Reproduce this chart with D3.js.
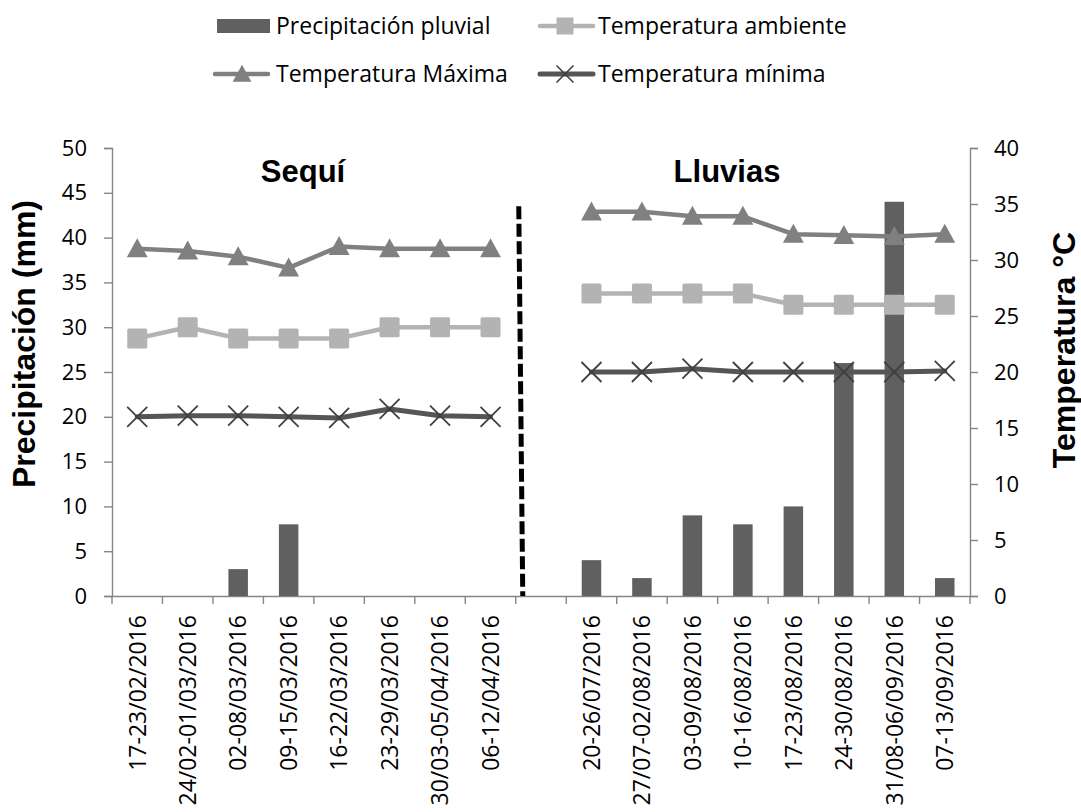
<!DOCTYPE html>
<html>
<head>
<meta charset="utf-8">
<script src="https://cdn.jsdelivr.net/npm/d3@7"></script>
<style>
  html, body { margin: 0; padding: 0; background: #fff; }
  svg { display: block; }
  .tick text { font-family: "Open Sans", sans-serif; fill: #000; }
</style>
</head>
<body>
<svg id="chart" width="1081" height="812"></svg>
<script>
// ---- data ----
const categories = [
  "17-23/02/2016", "24/02-01/03/2016", "02-08/03/2016", "09-15/03/2016",
  "16-22/03/2016", "23-29/03/2016", "30/03-05/04/2016", "06-12/04/2016",
  " ",
  "20-26/07/2016", "27/07-02/08/2016", "03-09/08/2016", "10-16/08/2016",
  "17-23/08/2016", "24-30/08/2016", "31/08-06/09/2016", "07-13/09/2016"
];
const precipitacion = [0, 0, 3, 8, 0, 0, 0, 0, null, 4, 2, 9, 8, 10, 26, 44, 2];
const tempMaxima   = [31.0, 30.8, 30.3, 29.3, 31.2, 31.0, 31.0, 31.0, null, 34.3, 34.3, 33.9, 33.9, 32.3, 32.2, 32.1, 32.3];
const tempAmbiente = [23, 24, 23, 23, 23, 24, 24, 24, null, 27, 27, 27, 27, 26, 26, 26, 26];
const tempMinima   = [16.0, 16.1, 16.1, 16.0, 15.9, 16.7, 16.1, 16.0, null, 20.0, 20.0, 20.3, 20.0, 20.0, 20.0, 20.0, 20.1];
const leftTicks  = [0, 5, 10, 15, 20, 25, 30, 35, 40, 45, 50];
const rightTicks = [0, 5, 10, 15, 20, 25, 30, 35, 40];
const seasonLabels = ["Sequí", "Lluvias"];
const separatorTop = 43.5; // mm, top of dashed separator
const legendLabels = ["Precipitación pluvial", "Temperatura ambiente", "Temperatura Máxima", "Temperatura mínima"];

(function () {
// ---- styles ----
const C = {
  bar: "#606060",
  max: "#808080",
  amb: "#b3b3b3",
  min: "#555555",
  minMarker: "#404040",
  axis: "#868686"
};
const FONT = "'Open Sans', sans-serif";
const BOLD = "'Liberation Sans', Arial, sans-serif";

const svg = d3.select("#chart");
const pL = 112, pR = 970, pT = 148, pB = 596;

const x = d3.scaleBand().domain(categories).range([pL, pR]).paddingInner(0).paddingOuter(0);
const yL = d3.scaleLinear().domain([0, 50]).range([pB, pT]);
const yR = d3.scaleLinear().domain([0, 40]).range([pB, pT]);
const cx = i => x(categories[i]) + x.bandwidth() / 2;

// ---- axes ----
const axL = svg.append("g").attr("transform", `translate(${pL},0)`)
  .call(d3.axisLeft(yL).tickValues(leftTicks).tickSize(8).tickPadding(17).tickFormat(d3.format("d")));
const axR = svg.append("g").attr("transform", `translate(${pR},0)`)
  .call(d3.axisRight(yR).tickValues(rightTicks).tickSize(8).tickPadding(16).tickFormat(d3.format("d")));
const axB = svg.append("g").attr("transform", `translate(0,${pB})`)
  .call(d3.axisBottom(x).tickSize(0).tickFormat(""));
[axL, axR, axB].forEach(g => {
  g.selectAll("path.domain").attr("stroke", C.axis).attr("stroke-width", 1.4);
  g.selectAll(".tick line").attr("stroke", C.axis).attr("stroke-width", 1.4);
});
axL.selectAll(".tick text").attr("font-size", 22);
axR.selectAll(".tick text").attr("font-size", 22);

// category boundary ticks
const boundaries = categories.map(c => x(c)).concat([pR]);
svg.append("g").selectAll("line").data(boundaries).join("line")
  .attr("x1", d => d).attr("x2", d => d)
  .attr("y1", pB).attr("y2", pB + 8)
  .attr("stroke", C.axis).attr("stroke-width", 1.4);

// category labels
svg.append("g").selectAll("text").data(categories).join("text")
  .attr("transform", (d, i) => `translate(${cx(i)},${pB + 19}) rotate(-90)`)
  .attr("text-anchor", "end")
  .attr("dy", "0.36em")
  .attr("font-family", FONT)
  .attr("font-size", 23)
  .attr("fill", "#000")
  .text(d => d.trim());

// ---- bars ----
const barW = 19.5;
svg.append("g").selectAll("rect")
  .data(precipitacion.map((v, i) => ({ v, i })).filter(d => d.v))
  .join("rect")
  .attr("x", d => cx(d.i) - barW / 2)
  .attr("y", d => yL(d.v))
  .attr("width", barW)
  .attr("height", d => yL(0) - yL(d.v))
  .attr("fill", C.bar);

// ---- dashed separator ----
const sepX = x(" ");
svg.append("line")
  .attr("x1", sepX + 3).attr("y1", yL(separatorTop))
  .attr("x2", sepX + 7).attr("y2", yL(0))
  .attr("stroke", "#000").attr("stroke-width", 5)
  .attr("stroke-dasharray", "13,4.5");

// ---- lines ----
const line = d3.line().defined(d => d.v != null).x(d => cx(d.i)).y(d => yR(d.v));
function series(vals, color, width) {
  const pts = vals.map((v, i) => ({ v, i }));
  svg.append("path").datum(pts)
    .attr("d", line).attr("fill", "none")
    .attr("stroke", color).attr("stroke-width", width)
    .attr("stroke-linejoin", "round").attr("stroke-linecap", "round");
  return pts.filter(d => d.v != null);
}
const triPath = s => `M0,${-s * 0.55}L${s * 0.55},${s * 0.45}L${-s * 0.55},${s * 0.45}Z`;

const ptsMax = series(tempMaxima, C.max, 4.5);
svg.append("g").selectAll("path").data(ptsMax).join("path")
  .attr("transform", d => `translate(${cx(d.i)},${yR(d.v)})`)
  .attr("d", triPath(19)).attr("fill", C.max);

const ptsAmb = series(tempAmbiente, C.amb, 4.5);
svg.append("g").selectAll("rect").data(ptsAmb).join("rect")
  .attr("x", d => cx(d.i) - 10).attr("y", d => yR(d.v) - 10)
  .attr("width", 20).attr("height", 20).attr("rx", 1.5)
  .attr("fill", C.amb);

const ptsMin = series(tempMinima, C.min, 5);
const xPath = s => `M${-s},${-s}L${s},${s}M${-s},${s}L${s},${-s}`;
svg.append("g").selectAll("path").data(ptsMin).join("path")
  .attr("transform", d => `translate(${cx(d.i)},${yR(d.v)})`)
  .attr("d", xPath(10)).attr("fill", "none")
  .attr("stroke", C.minMarker).attr("stroke-width", 1.8);

// ---- season labels ----
svg.append("g").selectAll("text").data(seasonLabels).join("text")
  .attr("x", (d, i) => [303, 727][i]).attr("y", 182)
  .attr("text-anchor", "middle")
  .attr("font-family", BOLD).attr("font-weight", "bold").attr("font-size", 31)
  .attr("fill", "#000")
  .text(d => d);

// ---- axis titles ----
svg.append("text")
  .attr("transform", "translate(35,344) rotate(-90)")
  .attr("text-anchor", "middle")
  .attr("font-family", BOLD).attr("font-weight", "bold").attr("font-size", 32)
  .text("Precipitación (mm)");
svg.append("text")
  .attr("transform", "translate(1075,350) rotate(-90)")
  .attr("text-anchor", "middle")
  .attr("font-family", BOLD).attr("font-weight", "bold").attr("font-size", 32)
  .text("Temperatura °C");

// ---- legend ----
const lg = svg.append("g");
const legendPos = [
  { x: 217, y: 26 }, { x: 538, y: 26 },
  { x: 213, y: 74 }, { x: 538, y: 74 }
];
lg.append("rect").attr("x", legendPos[0].x).attr("y", legendPos[0].y - 7)
  .attr("width", 53).attr("height", 14).attr("fill", C.bar);
function legLine(p, color, w) {
  lg.append("line").attr("x1", p.x + 2).attr("x2", p.x + 55)
    .attr("y1", p.y).attr("y2", p.y)
    .attr("stroke", color).attr("stroke-width", w).attr("stroke-linecap", "round");
}
legLine(legendPos[1], C.amb, 4.5);
lg.append("rect").attr("x", 565 - 8.5).attr("y", legendPos[1].y - 8.5)
  .attr("width", 17).attr("height", 17).attr("fill", C.amb);
legLine(legendPos[2], C.max, 4.5);
lg.append("path").attr("transform", `translate(242,${legendPos[2].y})`)
  .attr("d", triPath(17)).attr("fill", C.max);
legLine(legendPos[3], C.min, 5);
lg.append("path").attr("transform", `translate(565,${legendPos[3].y})`)
  .attr("d", xPath(8.5)).attr("fill", "none")
  .attr("stroke", C.minMarker).attr("stroke-width", 1.6);
const textX = [276, 598, 276, 598];
lg.selectAll("text").data(legendLabels).join("text")
  .attr("x", (d, i) => textX[i])
  .attr("y", (d, i) => legendPos[i].y + 8)
  .attr("font-family", FONT).attr("font-size", 23).attr("fill", "#000")
  .text(d => d);
})();
</script>
</body>
</html>
